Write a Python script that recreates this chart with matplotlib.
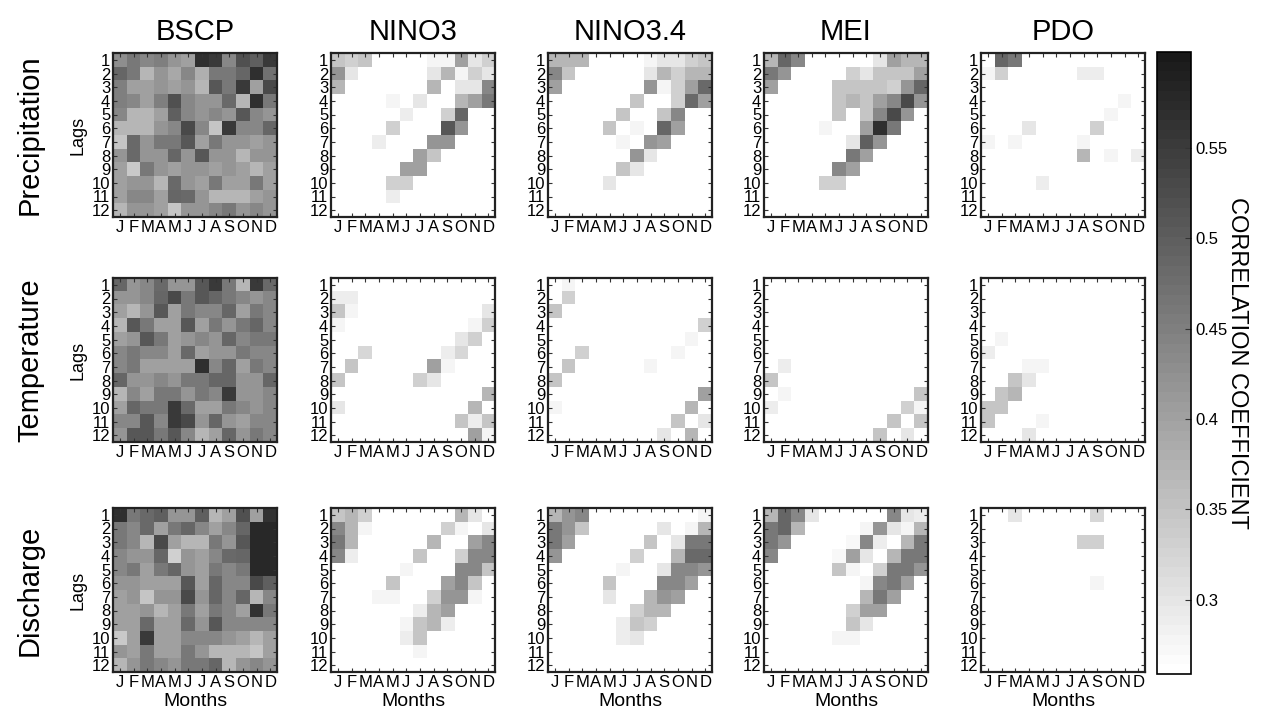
import numpy as np
import matplotlib
matplotlib.use("Agg")
import matplotlib.pyplot as plt
from matplotlib.colors import ListedColormap

plt.rcParams['font.family'] = ['Liberation Sans', 'DejaVu Sans']

W = 0.26  # below-threshold (blank) correlation

months = ['J', 'F', 'M', 'A', 'M', 'J', 'J', 'A', 'S', 'O', 'N', 'D']
lags = list(range(1, 13))
indices = ['BSCP', 'NINO3', 'NINO3.4', 'MEI', 'PDO']
variables = ['Precipitation', 'Temperature', 'Discharge']

# ---------------- Precipitation ----------------
P_BSCP = [
    [.43, .46, .44, .45, .42, .40, .57, .55, .44, .52, .50, .55],
    [.49, .46, .37, .42, .39, .44, .38, .46, .46, .49, .57, .47],
    [.45, .40, .40, .42, .40, .42, .37, .51, .46, .55, .40, .53],
    [.45, .44, .40, .45, .52, .44, .42, .42, .48, .37, .57, .46],
    [.44, .37, .37, .40, .50, .44, .42, .44, .42, .51, .44, .42],
    [.37, .37, .37, .42, .44, .53, .44, .35, .55, .44, .44, .49],
    [.35, .48, .42, .46, .46, .51, .40, .46, .42, .42, .40, .42],
    [.42, .48, .42, .42, .49, .42, .51, .42, .42, .37, .42, .42],
    [.40, .34, .46, .42, .40, .42, .42, .40, .42, .40, .37, .40],
    [.40, .42, .42, .37, .48, .42, .40, .46, .40, .40, .46, .40],
    [.40, .44, .44, .40, .49, .48, .42, .37, .37, .37, .40, .42],
    [.37, .42, .42, .40, .35, .42, .42, .44, .46, .42, .44, .42],
]
P_NINO3 = [
    [.35, .33, .35, W, W, W, W, .28, .28, .40, .30, .33],
    [.42, .30, W, W, W, W, W, .30, .37, .28, .33, .30],
    [.37, W, W, W, W, W, W, .37, W, .30, .30, .44],
    [W, W, W, W, .28, W, .30, W, W, .37, .40, .46],
    [W, W, W, W, W, .29, W, W, .33, .49, W, W],
    [W, W, W, W, .33, W, W, W, .51, .42, W, W],
    [W, W, W, .29, W, W, W, .42, .42, W, W, W],
    [W, W, W, W, W, W, .40, .35, W, W, W, W],
    [W, W, W, W, W, .40, .40, W, W, W, W, W],
    [W, W, W, W, .33, .33, W, W, W, W, W, W],
    [W, W, W, W, .29, W, W, W, W, W, W, W],
    [W, W, W, W, W, W, W, W, W, W, W, W],
]
P_NINO34 = [
    [.37, .37, .37, W, W, W, W, .28, .30, .30, .33, .35],
    [.44, .35, W, W, W, W, W, .30, .37, .33, .37, .37],
    [.40, W, W, W, W, W, W, .42, .28, .33, .40, .48],
    [W, W, W, W, W, W, .35, W, W, .33, .48, .40],
    [W, W, W, W, W, .35, W, W, .35, .44, W, W],
    [W, W, W, W, .35, W, .28, W, .49, .40, W, W],
    [W, W, W, W, W, .28, W, .42, .40, W, W, W],
    [W, W, W, W, W, W, .42, .30, W, W, W, W],
    [W, W, W, W, W, .35, .30, W, W, W, W, W],
    [W, W, W, W, .30, W, W, W, W, W, W, W],
    [W, W, W, W, W, W, W, W, W, W, W, W],
    [W, W, W, W, W, W, W, W, W, W, W, W],
]
P_MEI = [
    [.37, .49, .44, W, W, W, W, W, .30, .40, .37, .37],
    [.46, .42, W, W, W, W, .33, .30, .35, .35, .35, .40],
    [.40, W, W, W, W, .35, .35, .35, .35, .33, .42, .49],
    [W, W, W, W, W, .35, .37, .35, .40, .44, .53, .42],
    [W, W, W, W, W, .35, W, .35, .44, .53, .42, W],
    [W, W, W, W, .28, W, W, .40, .57, .46, W, W],
    [W, W, W, W, W, W, .30, .50, .42, W, W, W],
    [W, W, W, W, W, W, .46, .40, W, W, W, W],
    [W, W, W, W, W, .44, .40, W, W, W, W, W],
    [W, W, W, W, .33, .33, W, W, W, W, W, W],
    [W, W, W, W, W, W, W, W, W, W, W, W],
    [W, W, W, W, W, W, W, W, W, W, W, W],
]
P_PDO = [
    [W, .49, .46, W, W, W, W, W, W, W, W, W],
    [.28, .33, W, W, W, W, W, .29, .29, W, W, W],
    [W, W, W, W, W, W, W, W, W, W, W, W],
    [W, W, W, W, W, W, W, W, W, W, .28, W],
    [W, W, W, W, W, W, W, W, W, .28, W, W],
    [W, W, W, .30, W, W, W, W, .33, W, W, W],
    [.28, W, .28, W, W, W, W, .28, W, W, W, W],
    [W, W, W, W, W, W, W, .37, W, .28, W, .29],
    [W, W, W, W, W, W, W, W, W, W, W, W],
    [W, W, W, W, .29, W, W, W, W, W, W, W],
    [W, W, W, W, W, W, W, W, W, W, W, W],
    [W, W, W, W, W, W, W, W, W, W, W, W],
]

# ---------------- Temperature ----------------
T_BSCP = [
    [.49, .42, .44, .48, .42, .42, .51, .55, .46, .37, .55, .48],
    [.42, .42, .44, .49, .53, .46, .51, .49, .46, .44, .42, .44],
    [.40, .37, .42, .51, .40, .46, .44, .44, .49, .40, .46, .44],
    [.37, .51, .46, .40, .40, .51, .40, .46, .42, .46, .49, .44],
    [.40, .42, .51, .46, .40, .42, .44, .42, .49, .44, .46, .46],
    [.44, .46, .44, .44, .40, .48, .40, .42, .42, .46, .44, .44],
    [.44, .46, .40, .40, .40, .40, .57, .44, .49, .40, .46, .44],
    [.49, .42, .42, .44, .42, .46, .46, .49, .49, .42, .42, .49],
    [.37, .44, .40, .46, .46, .42, .46, .44, .55, .42, .42, .44],
    [.40, .49, .46, .46, .55, .48, .40, .40, .46, .44, .42, .44],
    [.44, .44, .51, .44, .55, .53, .42, .49, .42, .40, .44, .44],
    [.42, .51, .51, .46, .51, .44, .37, .40, .49, .42, .46, .44],
]
T_NINO3 = [
    [W, W, W, W, W, W, W, W, W, W, W, W],
    [.29, .29, W, W, W, W, W, W, W, W, W, W],
    [.35, .28, W, W, W, W, W, W, W, W, W, .30],
    [.28, W, W, W, W, W, W, W, W, W, .28, .33],
    [W, W, W, W, W, W, W, W, W, .30, .33, W],
    [W, W, .32, W, W, W, W, W, .29, .32, W, W],
    [W, .35, W, W, W, W, W, .40, .28, W, W, W],
    [.35, W, W, W, W, W, .33, .30, W, W, W, W],
    [W, W, W, W, W, W, W, W, W, W, W, .37],
    [.30, W, W, W, W, W, W, W, W, W, .37, W],
    [W, W, W, W, W, W, W, W, W, .35, .29, .35],
    [W, W, W, W, W, W, W, W, W, W, .40, .28],
]
T_NINO34 = [
    [W, .28, W, W, W, W, W, W, W, W, W, W],
    [W, .33, W, W, W, W, W, W, W, W, W, W],
    [.35, W, W, W, W, W, W, W, W, W, W, W],
    [W, W, W, W, W, W, W, W, W, W, W, .33],
    [W, W, W, W, W, W, W, W, W, W, .28, W],
    [W, W, .33, W, W, W, W, W, W, .28, W, W],
    [W, .35, W, W, W, W, W, .28, W, W, W, W],
    [.35, W, W, W, W, W, W, W, W, W, W, W],
    [W, W, W, W, W, W, W, W, W, W, W, .40],
    [.28, W, W, W, W, W, W, W, W, W, .37, W],
    [W, W, W, W, W, W, W, W, W, .35, W, .30],
    [W, W, W, W, W, W, W, W, .30, W, .37, W],
]
T_MEI = [
    [W, W, W, W, W, W, W, W, W, W, W, W],
    [W, W, W, W, W, W, W, W, W, W, W, W],
    [W, W, W, W, W, W, W, W, W, W, W, W],
    [W, W, W, W, W, W, W, W, W, W, W, W],
    [W, W, W, W, W, W, W, W, W, W, W, W],
    [W, W, W, W, W, W, W, W, W, W, W, W],
    [W, .29, W, W, W, W, W, W, W, W, W, W],
    [.35, W, W, W, W, W, W, W, W, W, W, W],
    [W, .28, W, W, W, W, W, W, W, W, W, .35],
    [.29, W, W, W, W, W, W, W, W, W, .33, .28],
    [W, W, W, W, W, W, W, W, W, .35, W, .35],
    [W, W, W, W, W, W, W, W, .35, W, .30, W],
]
T_PDO = [
    [W, W, W, W, W, W, W, W, W, W, W, W],
    [W, W, W, W, W, W, W, W, W, W, W, W],
    [W, W, W, W, W, W, W, W, W, W, W, W],
    [W, W, W, W, W, W, W, W, W, W, W, W],
    [W, .28, W, W, W, W, W, W, W, W, W, W],
    [.29, W, W, W, W, W, W, W, W, W, W, W],
    [W, W, W, .28, .28, W, W, W, W, W, W, W],
    [W, W, .35, .30, W, W, W, W, W, W, W, W],
    [W, .35, .37, W, W, W, W, W, W, W, W, W],
    [.35, .35, W, W, W, W, W, W, W, W, W, W],
    [.35, W, W, W, .28, W, W, W, W, W, W, W],
    [W, W, W, .30, W, W, W, W, W, W, W, W],
]

# ---------------- Discharge ----------------
D_BSCP = [
    [.57, .46, .48, .50, .42, .42, .50, .37, .40, .52, .40, .56],
    [.46, .44, .48, .40, .46, .49, .44, .40, .44, .49, .58, .58],
    [.46, .44, .37, .53, .40, .37, .37, .46, .42, .51, .58, .58],
    [.44, .42, .42, .49, .33, .42, .40, .44, .48, .49, .58, .58],
    [.44, .46, .40, .46, .49, .42, .40, .46, .44, .46, .58, .58],
    [.42, .42, .40, .40, .40, .51, .40, .49, .44, .44, .53, .50],
    [.40, .42, .35, .42, .42, .53, .42, .49, .44, .49, .37, .44],
    [.40, .40, .42, .37, .40, .46, .40, .46, .44, .40, .56, .46],
    [.40, .40, .48, .40, .40, .48, .42, .51, .44, .44, .44, .44],
    [.34, .40, .55, .40, .40, .44, .44, .44, .42, .40, .37, .40],
    [.42, .40, .46, .40, .40, .46, .42, .37, .37, .37, .35, .40],
    [.37, .42, .46, .44, .42, .46, .46, .49, .37, .42, .44, .42],
]
D_NINO3 = [
    [.35, .37, .33, W, W, W, W, W, W, .37, .30, W],
    [.44, .37, .28, W, W, W, W, W, .33, .28, W, .30],
    [.46, .37, W, W, W, W, W, .37, W, W, .40, .44],
    [.44, .29, W, W, W, W, .35, W, W, .33, .44, .44],
    [W, W, W, W, W, .28, W, W, W, .44, .44, .35],
    [W, W, W, W, .35, W, W, W, .40, .44, .35, W],
    [W, W, W, .28, .28, W, W, .33, .42, .42, .28, W],
    [W, W, W, W, W, W, .29, .37, .40, W, W, W],
    [W, W, W, W, W, .28, .35, .37, .29, W, W, W],
    [W, W, W, W, W, .29, .35, W, W, W, W, W],
    [W, W, W, W, W, W, .28, W, W, W, W, W],
    [W, W, W, W, W, W, W, W, W, W, W, W],
]
D_NINO34 = [
    [.37, .42, .44, W, W, W, W, W, W, W, W, .28],
    [.46, .42, .35, W, W, W, W, W, .30, W, .28, .37],
    [.46, .40, W, W, W, W, W, .35, W, .30, .46, .46],
    [.42, W, W, W, W, W, .33, W, W, .37, .48, .48],
    [W, W, W, W, W, .28, W, W, .30, .44, .44, .42],
    [W, W, W, W, .35, W, W, W, .44, .44, .40, W],
    [W, W, W, W, .30, W, W, .37, .42, .40, W, W],
    [W, W, W, W, W, W, .33, .37, .37, W, W, W],
    [W, W, W, W, W, .29, .35, .33, W, W, W, W],
    [W, W, W, W, W, .29, .30, W, W, W, W, W],
    [W, W, W, W, W, W, W, W, W, W, W, W],
    [W, W, W, W, W, W, W, W, W, W, W, W],
]
D_MEI = [
    [.37, .49, .44, .30, W, W, W, W, W, .44, .30, .29],
    [.46, .49, .37, W, W, W, W, .28, .42, .30, .28, .37],
    [.46, .42, W, W, W, W, .27, .44, .29, W, .37, .46],
    [.44, W, W, W, W, .27, .40, .30, W, .37, .46, .46],
    [W, W, W, W, W, .35, .28, W, .33, .46, .46, .42],
    [W, W, W, W, W, W, W, .28, .44, .46, .40, W],
    [W, W, W, W, W, W, W, .37, .46, .40, W, W],
    [W, W, W, W, W, W, .33, .40, .40, W, W, W],
    [W, W, W, W, W, W, .35, .30, W, W, W, W],
    [W, W, W, W, W, .28, .28, W, W, W, W, W],
    [W, W, W, W, W, W, W, W, W, W, W, W],
    [W, W, W, W, W, W, W, W, W, W, W, W],
]
D_PDO = [
    [W, W, .30, W, W, W, W, W, .32, W, W, W],
    [W, W, W, W, W, W, W, W, W, W, W, W],
    [W, W, W, W, W, W, W, .33, .33, W, W, W],
    [W, W, W, W, W, W, W, W, W, W, W, W],
    [W, W, W, W, W, W, W, W, W, W, W, W],
    [W, W, W, W, W, W, W, W, .28, W, W, W],
    [W, W, W, W, W, W, W, W, W, W, W, W],
    [W, W, W, W, W, W, W, W, W, W, W, W],
    [W, W, W, W, W, W, W, W, W, W, W, W],
    [W, W, W, W, W, W, W, W, W, W, W, W],
    [W, W, W, W, W, W, W, W, W, W, W, W],
    [W, W, W, W, W, W, W, W, W, W, W, W],
]

grid = [
    [P_BSCP, P_NINO3, P_NINO34, P_MEI, P_PDO],
    [T_BSCP, T_NINO3, T_NINO34, T_MEI, T_PDO],
    [D_BSCP, D_NINO3, D_NINO34, D_MEI, D_PDO],
]

VMIN, VMAX = 0.259, 0.603
cmap = ListedColormap(plt.cm.gray_r(np.linspace(0.0, 0.9, 64)))

FW, FH = 1263, 717
fig = plt.figure(figsize=(FW / 100, FH / 100), dpi=100)

col_x = [113, 331, 548, 764, 981]
row_y = [53, 278, 508]
PW, PH = 164, 164

im = None
for r in range(3):
    for c in range(5):
        x0, y0 = col_x[c], row_y[r]
        ax = fig.add_axes([x0 / FW, 1 - (y0 + PH) / FH, PW / FW, PH / FH])
        data = np.array(grid[r][c])
        im = ax.imshow(data, cmap=cmap, vmin=VMIN, vmax=VMAX, aspect='auto',
                       interpolation='nearest',
                       extent=(0.5, 12.5, 12.5, 0.5))
        ax.set_xticks(range(1, 13))
        ax.set_xticklabels(months)
        ax.set_yticks(lags)
        ax.set_yticklabels([str(v) for v in lags])
        ax.tick_params(direction='in', top=True, right=True, length=3,
                       width=0.8, labelsize=12, pad=2, color='#333333')
        for s in ax.spines.values():
            s.set_linewidth(1.6)
            s.set_color('#222222')
        if c == 0:
            ax.set_ylabel('Lags', fontsize=13, labelpad=4)
            fig.text(30 / FW, 1 - (y0 + PH / 2) / FH, variables[r],
                     rotation=90, ha='center', va='center', fontsize=21)
        if r == 0:
            ax.set_title(indices[c], fontsize=21, pad=9)
        if r == 2:
            ax.set_xlabel('Months', fontsize=14, labelpad=2)

cax = fig.add_axes([1157 / FW, 1 - 674 / FH, 34 / FW, 622 / FH])
cb = fig.colorbar(im, cax=cax)
cb.set_ticks([0.3, 0.35, 0.4, 0.45, 0.5, 0.55])
cb.set_ticklabels(['0.3', '0.35', '0.4', '0.45', '0.5', '0.55'])
cb.ax.tick_params(direction='in', length=4, labelsize=12, color='#333333')
cb.outline.set_linewidth(1.2)
cb.set_label('CORRELATION COEFFICIENT', rotation=-90, fontsize=17, labelpad=14)

fig.savefig('out.png', dpi=100)
